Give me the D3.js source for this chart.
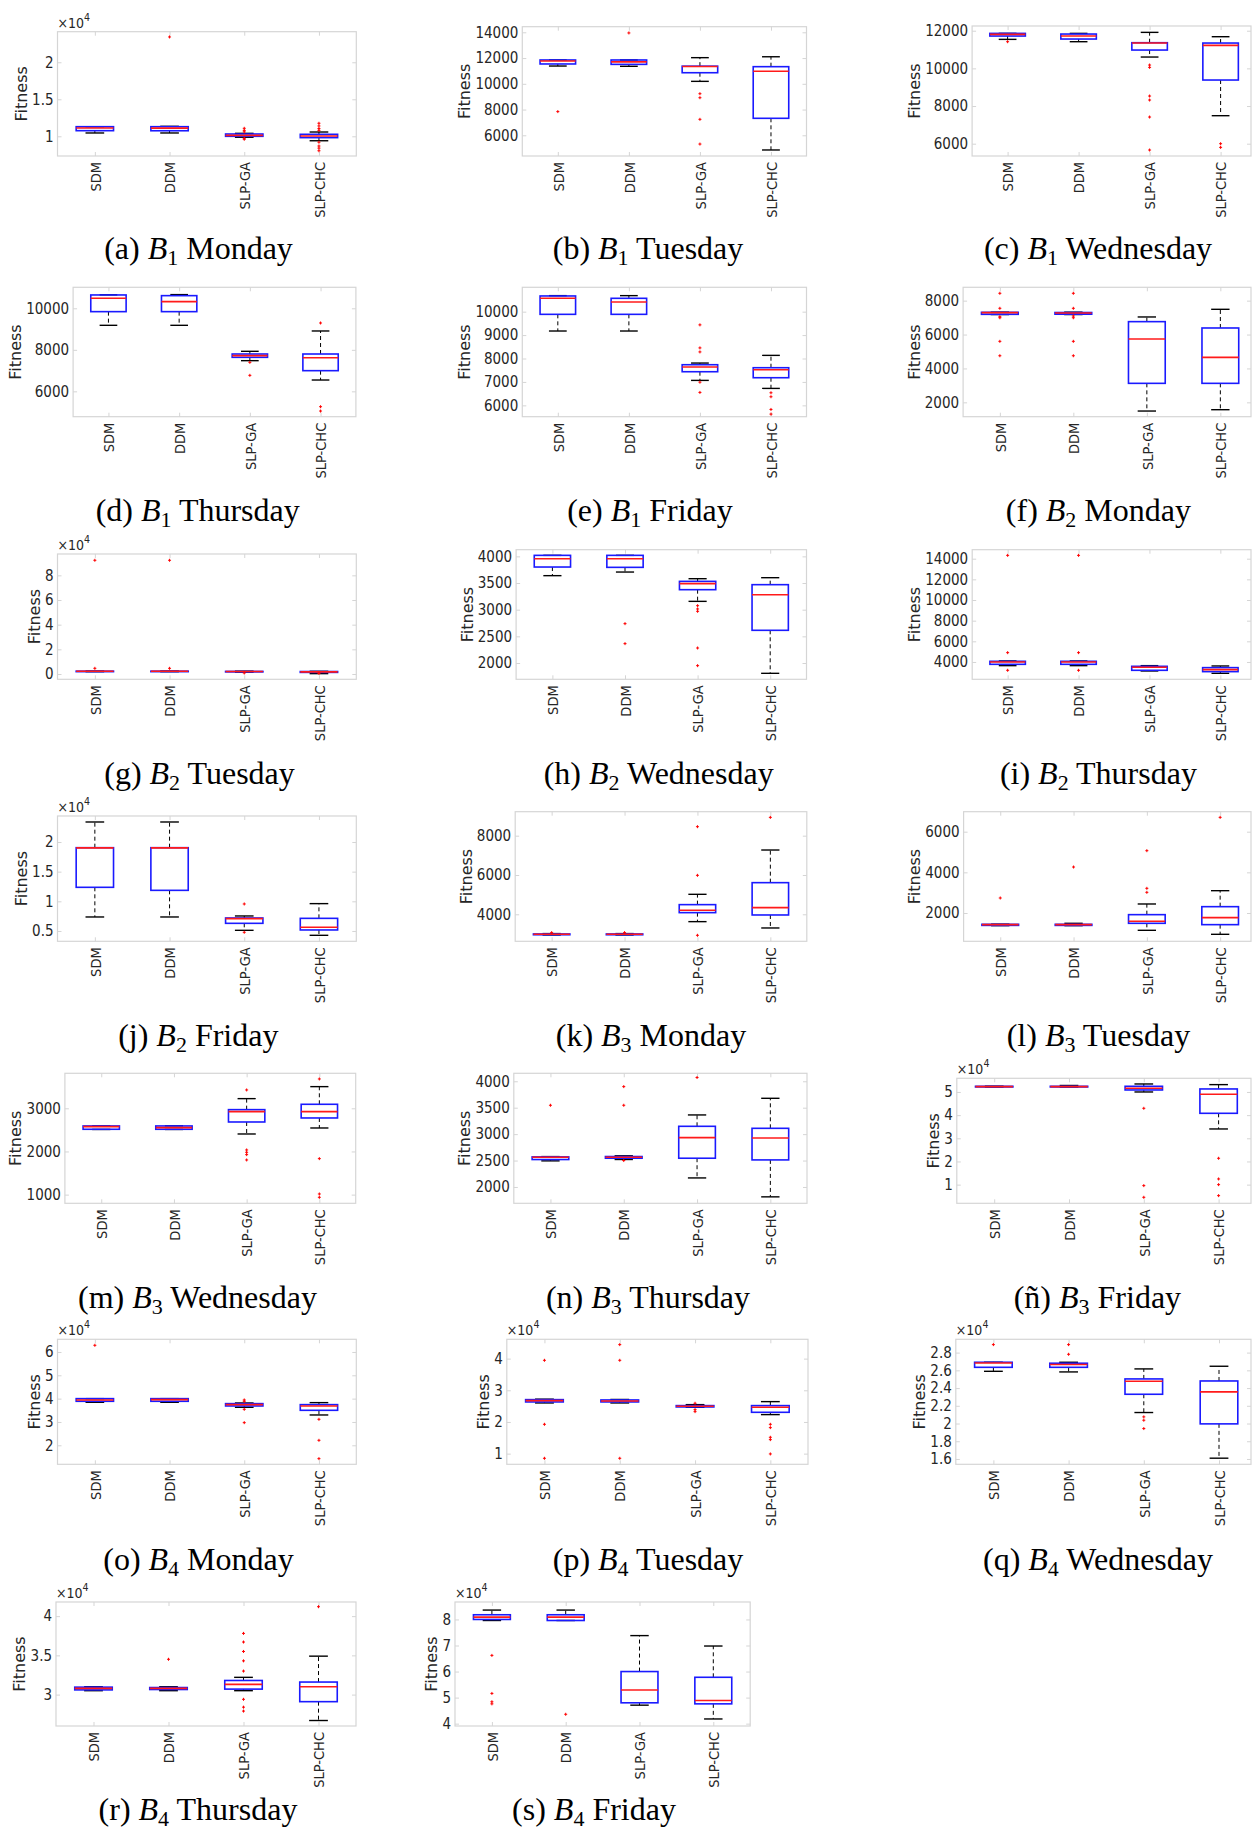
<!DOCTYPE html>
<html>
<head>
<meta charset="utf-8">
<script src="https://cdn.jsdelivr.net/npm/d3@7"></script>
<style>
body { margin: 0; background: #fff; }
svg text { font-family: "DejaVu Sans Condensed", "DejaVu Sans", sans-serif; font-stretch: condensed; fill: #262626; }
svg text.ylab { font-family: "DejaVu Sans", sans-serif; font-stretch: normal; }
svg text.cap { font-family: "Liberation Serif", "Times New Roman", serif; font-stretch: normal; fill: #000; }
</style>
</head>
<body>
<svg id="fig" width="1253" height="1836"></svg>
<script>
var categories = ["SDM", "DDM", "SLP-GA", "SLP-CHC"];
var letters = ["a","b","c","d","e","f","g","h","i","j","k","l","m","n","ñ","o","p","q","r","s"];
var benchNum = [1,1,1,1,1,2,2,2,2,2,3,3,3,3,3,4,4,4,4,4];
var days = ["Monday","Tuesday","Wednesday","Thursday","Friday",
            "Monday","Tuesday","Wednesday","Thursday","Friday",
            "Monday","Tuesday","Wednesday","Thursday","Friday",
            "Monday","Tuesday","Wednesday","Thursday","Friday"];
// power of ten shown above the axis (0 = none)
var expo = [4,0,0,0,0,0,4,0,0,4,0,0,0,0,4,4,4,4,4,4];

// box stats per category: [lower whisker, q1, median, q3, upper whisker]
var statsA = [[10450,10760,11120,11300,11300],[10450,10750,11100,11300,11350],[9870,10000,10130,10310,10400],[9400,9820,10040,10270,10580]];
var outA = [[],[23420],[11080,10800,10600,9730,9600],[11760,11400,11050,10800,9200,8690,8400,8050]];
var ticksA = [10000,15000,20000];
var limA = [7340,24130];

var statsB = [[11380,11540,11770,11850,11850],[11360,11510,11700,11850,11850],[10190,10860,11340,11370,12030],[4860,7320,10970,11330,12100]];
var outB = [[7840],[13950],[9230,8920,7240,5320],[]];
var ticksB = [6000,8000,10000,12000,14000];
var limB = [4392,14435];

var statsC = [[11540,11717,11805,11858,11858],[11416,11558,11717,11823,11858],[10602,10973,11350,11363,11912],[7487,9381,11221,11345,11681]];
var outC = [[11416],[],[10177,10053,8531,8319,7416,5664],[6000,5805]];
var ticksC = [6000,8000,10000,12000];
var limC = [5347,12250];

var statsD = [[9181,9839,10482,10643,10650],[9181,9839,10321,10610,10660],[7478,7639,7719,7799,7928],[6546,6996,7622,7799,8908]];
var outD = [[],[],[7398,6771],[9293,5261,5052]];
var ticksD = [6000,8000,10000];
var limD = [4779,11012];

var statsE = [[9174,9886,10570,10670,10684],[9174,9886,10413,10570,10684],[7066,7436,7635,7735,7806],[6724,7180,7521,7607,8134]];
var outE = [[],[],[9436,8453,8282,6990,6553],[6538,6368,5826,5627]];
var ticksE = [6000,7000,8000,9000,10000];
var limE = [5516,11040];

var statsF = [[7180,7193,7291,7311,7320],[7180,7200,7270,7300,7320],[1488,3122,5738,6761,7037],[1567,3122,4656,6387,7489]];
var outF = [[8433,7548,7050,6990,5600,4750],[8433,7548,7095,6990,5600,4750],[],[]];
var ticksF = [2000,4000,6000,8000];
var limF = [1154,8787];

var statsG = [[1900,2000,2200,2300,2400],[1900,2000,2200,2300,2400],[1500,1800,2000,2100,2300],[300,1300,1700,2000,2200]];
var outG = [[92200,4600],[92200,4600],[800],[500]];
var ticksG = [0,20000,40000,60000,80000];
var limG = [-4300,97300];

var statsH = [[3638,3800,3956,4019,4019],[3706,3794,3956,4019,4019],[3156,3375,3488,3531,3581],[1806,2613,3281,3469,3600]];
var outH = [[],[2738,2363],[3075,3013,2969,2281,1950],[]];
var ticksH = [2000,2500,3000,3500,4000];
var limH = [1694,4125];

var statsI = [[3645,3774,4000,4065,4100],[3645,3774,4000,4065,4100],[3129,3194,3484,3580,3645],[2903,3065,3258,3452,3613]];
var outI = [[14323,4903,3194],[14323,4903,3194],[],[]];
var ticksI = [4000,6000,8000,10000,12000,14000];
var limI = [2323,14871];

var statsJ = [[7360,12360,19000,19040,23370],[7360,11850,19000,19040,23370],[5110,6290,7080,7190,7530],[4270,5170,5620,7130,9610]];
var outJ = [[],[],[9550,4780],[]];
var ticksJ = [5000,10000,15000,20000];
var limJ = [3260,24380];

var statsK = [[2950,2960,2983,3000,3020],[2950,2960,2983,3000,3020],[3627,4085,4203,4492,5017],[3305,3966,4339,5610,7271]];
var outK = [[3068],[3068],[8458,5983,2932],[8932]];
var ticksK = [4000,6000,8000];
var limK = [2627,9220];

var statsL = [[1377,1390,1426,1443,1450],[1377,1390,1426,1443,1492],[1148,1492,1590,1918,2443],[951,1426,1770,2311,3098]];
var outL = [[2738],[4262],[5066,3213,3016],[6705]];
var ticksL = [2000,4000,6000];
var limL = [607,6984];

var statsM = [[2510,2514,2575,2591,2595],[2510,2514,2552,2591,2595],[2405,2683,2923,2969,3224],[2544,2776,2923,3093,3502]];
var outM = [[],[],[3425,2035,1981,1927,1803],[3680,1834,1015,938]];
var ticksM = [1000,2000,3000];
var limM = [799,3811];

var statsN = [[2494,2519,2563,2569,2575],[2520,2544,2563,2576,2590],[2171,2544,2934,3148,3363],[1813,2512,2927,3110,3678]];
var outN = [[3546],[3899,3546,2500],[4071],[]];
var ticksN = [2000,2500,3000,3500,4000];
var limN = [1691,4151];

var statsNt = [[52100,52160,52300,52450,52500],[52100,52160,52300,52450,52800],[50000,50860,51580,52450,53450],[34030,40790,49000,51300,53170]];
var outNt = [[],[],[42950,9570,4530],[21370,12450,10000,5250]];
var ticksNt = [10000,20000,30000,40000,50000];
var limNt = [1940,55900];

var statsO = [[38430,38860,39400,40000,40000],[38430,38860,39570,40000,40000],[36290,36860,37430,37860,38140],[33000,35000,36860,37430,38290]];
var outO = [[62860],[],[39430,38860,35430,29710],[31140,22140,14290]];
var ticksO = [20000,30000,40000,50000,60000];
var limO = [11860,65430];

var statsP = [[26000,26320,26740,27050,27200],[26000,26320,26630,26950,27100],[24630,24740,24950,25160,25470],[22320,23050,24630,25160,26420]];
var outP = [[39470,19260,8530],[44420,39470,8530],[25900,23890,23260],[19260,18210,15160,14420,9900]];
var ticksP = [10000,20000,30000,40000];
var limP = [6630,46100];

var statsQ = [[25890,26340,26830,26910,26910],[25820,26340,26650,26800,26910],[21240,23300,24770,25030,26160],[16090,19960,23570,24800,26460]];
var outQ = [[28900],[28900,27810],[20750,20370,19430],[]];
var ticksQ = [16000,18000,20000,22000,24000,26000,28000];
var limQ = [15400,29500];

var statsR = [[30500,30600,30800,30950,31000],[30500,30650,30800,30900,31000],[30500,30700,31300,31800,32200],[26700,29100,31000,31600,34900]];
var outR = [[],[34500],[37800,36700,35500,34300,33000,29400,28400,27900],[41200]];
var ticksR = [30000,35000,40000];
var limR = [26000,41800];

var statsS = [[79600,80000,80900,81800,83600],[79600,79600,80900,81800,83600],[47100,48000,52900,60000,73800],[41800,47600,48900,57800,69800]];
var outS = [[66200,51600,48400,47600],[43600],[],[]];
var ticksS = [40000,50000,60000,70000,80000];
var limS = [39100,86700];

// panel frames: [left, category step, top, bottom, caption x, caption baseline]
var layout = [
  [57.5,74.7,31.7,156,198.5,259],
  [522.3,71.05,26.7,156,648,259],
  [972.1,71.0,26,156,1098,259],
  [73.1,70.7,287.3,416.7,197.7,521],
  [522.3,71.05,287.3,416.7,650,521],
  [963.1,73.5,287.3,416.7,1098.4,521],
  [57.5,74.7,554,679.3,199.5,783.5],
  [516.1,72.6,549.7,679.3,658.7,783.5],
  [972.2,70.9,549.7,679.3,1098.4,783.5],
  [57.5,74.7,816,941.3,198.3,1046],
  [515.2,72.9,811.7,941.3,651,1046],
  [963.6,73.3,811.7,941.3,1098.4,1046],
  [64.9,72.7,1073.3,1203.3,197.5,1308],
  [513.8,73.3,1073.3,1203.3,648,1308],
  [956.8,74.8,1078.3,1203.3,1097.4,1308],
  [57.5,74.7,1339.3,1464.3,198.5,1570],
  [506.8,75.3,1339.3,1464.3,648,1570],
  [955.8,75.2,1339.3,1464.3,1098,1570],
  [56,75,1602,1726,198,1820],
  [455,73.8,1602,1726,594,1820]
];

var allStats = [statsA,statsB,statsC,statsD,statsE,statsF,statsG,statsH,statsI,statsJ,statsK,statsL,statsM,statsN,statsNt,statsO,statsP,statsQ,statsR,statsS];
var allOut = [outA,outB,outC,outD,outE,outF,outG,outH,outI,outJ,outK,outL,outM,outN,outNt,outO,outP,outQ,outR,outS];
var allTicks = [ticksA,ticksB,ticksC,ticksD,ticksE,ticksF,ticksG,ticksH,ticksI,ticksJ,ticksK,ticksL,ticksM,ticksN,ticksNt,ticksO,ticksP,ticksQ,ticksR,ticksS];
var allLim = [limA,limB,limC,limD,limE,limF,limG,limH,limI,limJ,limK,limL,limM,limN,limNt,limO,limP,limQ,limR,limS];

var svg = d3.select("#fig");
var frameColor = "#d5d5d5";

function drawPanel(k) {
  var L = layout[k];
  var left = L[0], step = L[1], top = L[2], bottom = L[3];
  var right = Math.min(left + 4*step, 1251);
  var div = Math.pow(10, expo[k]);

  var x = d3.scaleLinear().domain([0.5, 4.5]).range([left, left + 4*step]);
  var y = d3.scaleLinear().domain(allLim[k]).range([bottom, top]);

  var g = svg.append("g");

  g.append("rect")
    .attr("x", left).attr("y", top)
    .attr("width", right - left).attr("height", bottom - top)
    .attr("fill", "none").attr("stroke", frameColor).attr("stroke-width", 1.2);

  // mirrored ticks on top and right
  g.append("g").attr("transform", "translate(0," + top + ")")
    .call(d3.axisTop(x).tickValues([1,2,3,4]).tickSize(-4).tickFormat(""))
    .call(function(s){ s.select(".domain").remove(); s.selectAll("line").attr("stroke", frameColor); });
  g.append("g").attr("transform", "translate(" + right + ",0)")
    .call(d3.axisRight(y).tickValues(allTicks[k]).tickSize(-4).tickFormat(""))
    .call(function(s){ s.select(".domain").remove(); s.selectAll("line").attr("stroke", frameColor); });

  var yAx = g.append("g").attr("transform", "translate(" + left + ",0)")
    .call(d3.axisLeft(y).tickValues(allTicks[k]).tickSize(-4).tickPadding(4)
      .tickFormat(function(d){ return d3.format("~g")(+(d/div).toFixed(6)); }))
    .call(function(s){ s.select(".domain").remove(); s.selectAll("line").attr("stroke", frameColor); });
  yAx.selectAll("text").attr("font-size", 15).attr("fill", "#262626");

  var xAx = g.append("g").attr("transform", "translate(0," + bottom + ")")
    .call(d3.axisBottom(x).tickValues([1,2,3,4]).tickSize(-4)
      .tickFormat(function(d){ return categories[d-1]; }))
    .call(function(s){ s.select(".domain").remove(); s.selectAll("line").attr("stroke", frameColor); });
  xAx.selectAll("text")
    .attr("transform", "rotate(-90)")
    .attr("x", -6).attr("y", 0).attr("dy", "0.36em")
    .attr("font-size", 14.5).attr("fill", "#262626")
    .style("text-anchor", "end");

  // y label placed left of the widest tick label
  var maxW = 0;
  yAx.selectAll("text").each(function(){ maxW = Math.max(maxW, this.getBBox().width); });
  var lx = left - 4 - maxW - 11;
  g.append("text").attr("class", "ylab")
    .attr("transform", "translate(" + lx + "," + ((top + bottom)/2) + ") rotate(-90)")
    .attr("text-anchor", "middle").attr("dy", "0.36em")
    .attr("font-size", 16)
    .text("Fitness");

  if (expo[k] > 0) {
    var t = g.append("text").attr("x", left).attr("y", top - 4)
      .attr("font-size", 14).attr("fill", "#444");
    t.append("tspan").text("\u00d710");
    t.append("tspan").attr("dy", -7).attr("font-size", 10.5).text(expo[k]);
  }

  var bw = step * 0.25, cw = step * 0.125;
  allStats[k].forEach(function(s, i) {
    var cx = x(i + 1);
    var wg = g.append("g");
    wg.selectAll("line.wh").data([[s[3], s[4]], [s[1], s[0]]]).enter().append("line")
      .attr("x1", cx).attr("x2", cx)
      .attr("y1", function(d){ return y(d[0]); }).attr("y2", function(d){ return y(d[1]); })
      .attr("stroke", "#000").attr("stroke-width", 1).attr("stroke-dasharray", "4,3");
    wg.selectAll("line.cap").data([s[4], s[0]]).enter().append("line")
      .attr("x1", cx - cw).attr("x2", cx + cw)
      .attr("y1", function(d){ return y(d); }).attr("y2", function(d){ return y(d); })
      .attr("stroke", "#000").attr("stroke-width", 1.4);
    wg.append("rect")
      .attr("x", cx - bw).attr("width", 2*bw)
      .attr("y", y(s[3])).attr("height", Math.max(y(s[1]) - y(s[3]), 0.5))
      .attr("fill", "none").attr("stroke", "#1a1aff").attr("stroke-width", 1.6);
    wg.append("line")
      .attr("x1", cx - bw).attr("x2", cx + bw)
      .attr("y1", y(s[2])).attr("y2", y(s[2]))
      .attr("stroke", "#ff1a1a").attr("stroke-width", 1.6);
    wg.selectAll("path.out").data(allOut[k][i]).enter().append("path")
      .attr("d", function(d){ var py = y(d); return "M" + (cx-1.5) + "," + py + "H" + (cx+1.5) + "M" + cx + "," + (py-1.5) + "V" + (py+1.5); })
      .attr("stroke", "#ff0000").attr("stroke-width", 1);
  });

  var cap = g.append("text").attr("class", "cap")
    .attr("x", L[4]).attr("y", L[5])
    .attr("text-anchor", "middle").attr("font-size", 32);
  cap.append("tspan").text("(" + letters[k] + ") ");
  cap.append("tspan").attr("font-style", "italic").text("B");
  cap.append("tspan").attr("font-size", 22).attr("dy", 6).text(benchNum[k]);
  cap.append("tspan").attr("dy", -6).text(" " + days[k]);
}

for (var k = 0; k < layout.length; k++) drawPanel(k);
</script>
</body>
</html>
